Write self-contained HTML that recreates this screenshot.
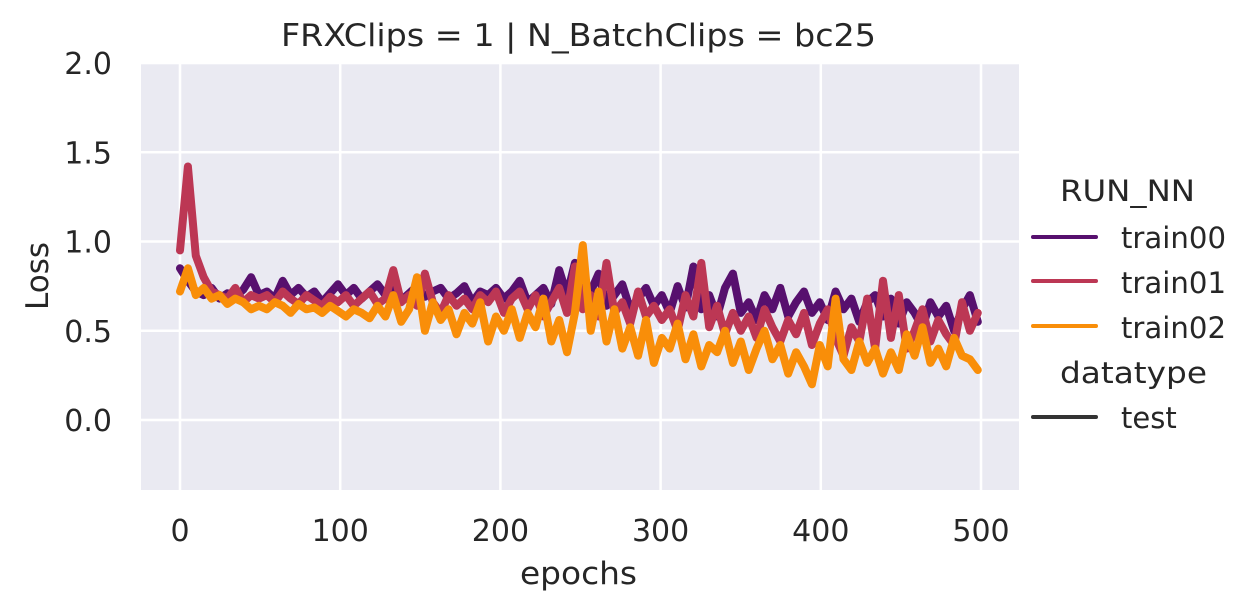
<!DOCTYPE html>
<html><head><meta charset="utf-8">
<style>
body{margin:0;background:#fff;}
svg text{font-family:"DejaVu Sans","Liberation Sans",sans-serif;fill:#262626;}
</style></head>
<body>
<svg id="chart" width="1257" height="611" xmlns="http://www.w3.org/2000/svg">
<rect x="141" y="63" width="878" height="427" fill="#eaeaf2"/>
<g id="grid"></g>
<g id="series"></g>
<g id="ticks"></g>
<text x="281" y="46" font-size="31" textLength="595" lengthAdjust="spacingAndGlyphs">FRXClips = 1 | N_BatchClips = bc25</text>
<text x="520" y="584" font-size="31" textLength="117" lengthAdjust="spacingAndGlyphs">epochs</text>
<text x="48" y="276" font-size="31" text-anchor="middle" transform="rotate(-90 48 276)">Loss</text>
<g>
<text x="1060" y="201" font-size="29" textLength="135" lengthAdjust="spacingAndGlyphs">RUN_NN</text>
<line x1="1033" y1="237" x2="1096" y2="237" stroke="#57106e" stroke-width="4" stroke-linecap="round"/>
<text x="1121" y="248" font-size="29" textLength="105" lengthAdjust="spacingAndGlyphs">train00</text>
<line x1="1033" y1="281" x2="1096" y2="281" stroke="#bc3754" stroke-width="4" stroke-linecap="round"/>
<text x="1121" y="293" font-size="29" textLength="105" lengthAdjust="spacingAndGlyphs">train01</text>
<line x1="1033" y1="326" x2="1096" y2="326" stroke="#f98e09" stroke-width="4" stroke-linecap="round"/>
<text x="1121" y="338" font-size="29" textLength="105" lengthAdjust="spacingAndGlyphs">train02</text>
<text x="1060" y="383" font-size="29" textLength="147" lengthAdjust="spacingAndGlyphs">datatype</text>
<line x1="1033" y1="417" x2="1096" y2="417" stroke="#333" stroke-width="4" stroke-linecap="round"/>
<text x="1121" y="428" font-size="29">test</text>
</g>
</svg>
<script>
const xTicks=[0,100,200,300,400,500];
const yTicks=[0.0,0.5,1.0,1.5,2.0];
const yTickLabels=["0.0","0.5","1.0","1.5","2.0"];
const epochMax=498;
const train00=[0.85,0.78,0.72,0.70,0.74,0.68,0.71,0.69,0.73,0.80,0.70,
0.72,0.68,0.78,0.70,0.74,0.69,0.72,0.66,0.71,0.76,
0.70,0.74,0.68,0.72,0.76,0.70,0.73,0.67,0.71,0.75,
0.69,0.72,0.74,0.68,0.71,0.75,0.66,0.72,0.70,0.74,
0.68,0.72,0.78,0.66,0.70,0.74,0.65,0.84,0.70,0.88,
0.66,0.72,0.82,0.64,0.70,0.76,0.62,0.68,0.74,0.64,
0.70,0.60,0.75,0.63,0.86,0.62,0.70,0.58,0.74,0.82,
0.60,0.66,0.56,0.70,0.62,0.74,0.58,0.66,0.72,0.60,
0.66,0.56,0.72,0.62,0.68,0.55,0.66,0.70,0.58,0.68,
0.54,0.66,0.60,0.52,0.66,0.58,0.64,0.50,0.62,0.70,0.55];
const train01=[0.95,1.42,0.92,0.80,0.72,0.70,0.68,0.74,0.66,0.70,0.68,
0.70,0.66,0.72,0.68,0.65,0.70,0.67,0.64,0.69,0.66,
0.70,0.64,0.68,0.72,0.65,0.68,0.84,0.66,0.70,0.64,
0.82,0.66,0.60,0.70,0.64,0.68,0.62,0.70,0.66,0.72,
0.60,0.68,0.72,0.62,0.70,0.58,0.66,0.74,0.60,0.86,
0.62,0.70,0.58,0.88,0.60,0.66,0.54,0.72,0.58,0.64,
0.56,0.62,0.50,0.70,0.58,0.88,0.52,0.64,0.48,0.60,
0.50,0.58,0.46,0.62,0.52,0.44,0.56,0.48,0.60,0.42,
0.54,0.62,0.46,0.36,0.52,0.44,0.68,0.40,0.78,0.46,
0.70,0.40,0.50,0.62,0.44,0.56,0.48,0.42,0.66,0.50,0.60];
const train02=[0.72,0.85,0.70,0.74,0.68,0.70,0.65,0.68,0.66,0.62,0.64,
0.62,0.66,0.64,0.60,0.65,0.62,0.63,0.60,0.64,0.61,
0.58,0.62,0.60,0.57,0.64,0.58,0.70,0.55,0.62,0.80,
0.50,0.66,0.56,0.62,0.48,0.60,0.54,0.66,0.44,0.58,
0.50,0.62,0.46,0.60,0.52,0.68,0.44,0.56,0.38,0.60,
0.98,0.50,0.72,0.44,0.62,0.40,0.52,0.36,0.56,0.32,
0.46,0.40,0.54,0.34,0.48,0.30,0.42,0.38,0.50,0.32,
0.44,0.28,0.40,0.50,0.34,0.42,0.26,0.38,0.30,0.20,
0.42,0.30,0.68,0.34,0.28,0.44,0.32,0.40,0.26,0.38,
0.28,0.48,0.36,0.52,0.32,0.40,0.30,0.46,0.36,0.34,0.28];
const seriesNames=["train00","train01","train02"];
const seriesColors=["#57106e","#bc3754","#f98e09"];

const NS="http://www.w3.org/2000/svg";
const X=v=>180+v*1.602;
const Y=v=>420-v*178.5;
const grid=document.getElementById('grid');
const ticks=document.getElementById('ticks');
xTicks.forEach(t=>{
  const l=document.createElementNS(NS,'line');
  l.setAttribute('x1',X(t));l.setAttribute('x2',X(t));l.setAttribute('y1',63);l.setAttribute('y2',490);
  l.setAttribute('stroke','#fff');l.setAttribute('stroke-width','2.5');
  
  
  grid.appendChild(l);
  const tx=document.createElementNS(NS,'text');
  tx.setAttribute('x',X(t));tx.setAttribute('y',541);tx.setAttribute('font-size','30');tx.setAttribute('text-anchor','middle');
  tx.textContent=t;
  
  
  ticks.appendChild(tx);
});
yTicks.forEach((t,i)=>{
  const l=document.createElementNS(NS,'line');
  l.setAttribute('x1',141);l.setAttribute('x2',1019);l.setAttribute('y1',Y(t));l.setAttribute('y2',Y(t));
  l.setAttribute('stroke','#fff');l.setAttribute('stroke-width','2.5');
  
  
  grid.appendChild(l);
  const tx=document.createElementNS(NS,'text');
  tx.setAttribute('x',112);tx.setAttribute('y',Y(t)+11);tx.setAttribute('font-size','30');tx.setAttribute('text-anchor','end');
  tx.textContent=yTickLabels[i];
  
  
  ticks.appendChild(tx);
});
const sg=document.getElementById('series');
[train00,train01,train02].forEach((arr,k)=>{
  const step=epochMax/(arr.length-1);
  const d=arr.map((v,i)=>(i?'L':'M')+X(i*step).toFixed(1)+','+Y(v).toFixed(1)).join(' ');
  const p=document.createElementNS(NS,'path');
  p.setAttribute('d',d);p.setAttribute('fill','none');p.setAttribute('stroke',seriesColors[k]);
  p.setAttribute('stroke-width','8');p.setAttribute('stroke-linejoin','round');p.setAttribute('stroke-linecap','round');
  
  
  sg.appendChild(p);
});
</script>
</body></html>
